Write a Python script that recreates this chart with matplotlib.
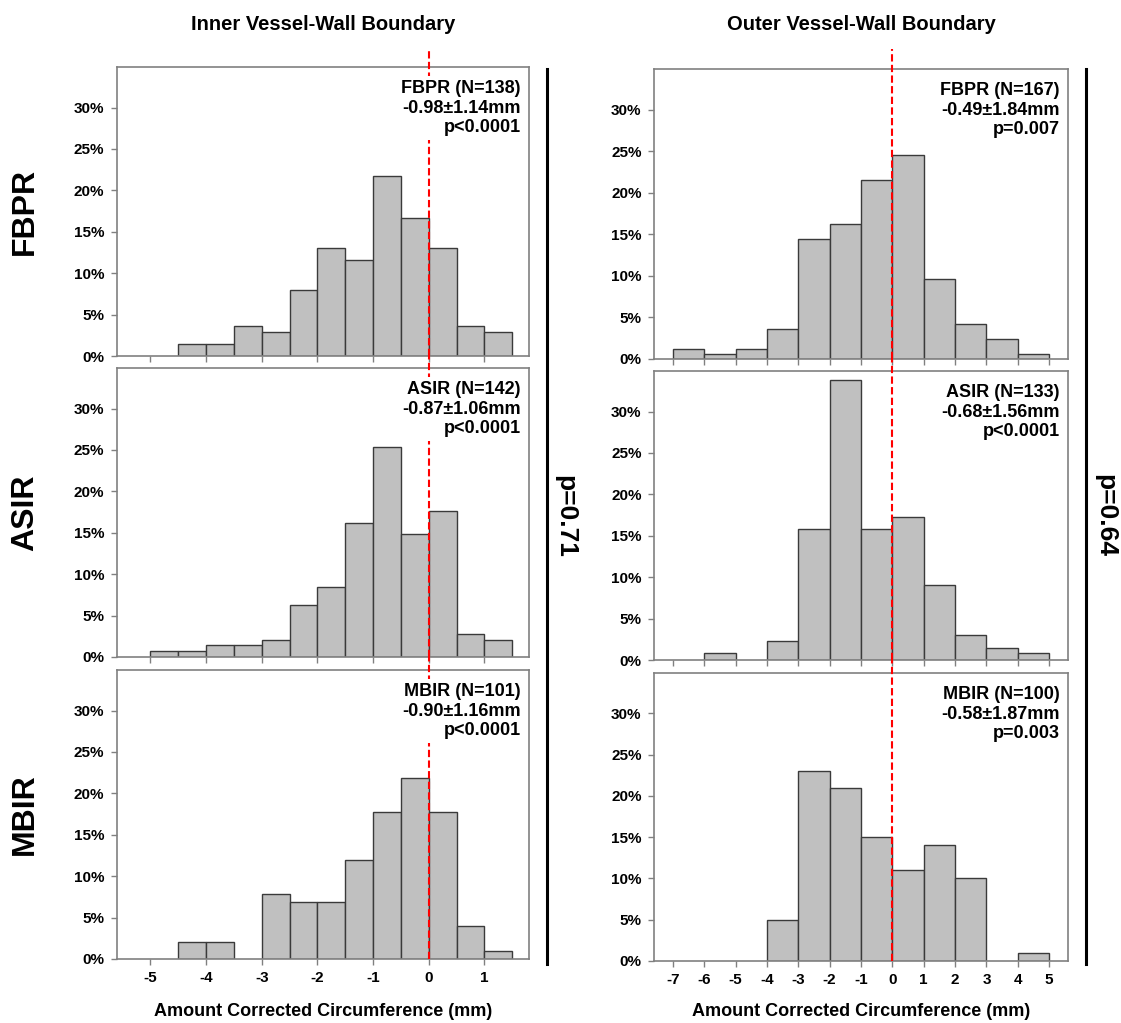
import matplotlib
matplotlib.use("Agg")
import matplotlib.pyplot as plt
import matplotlib.transforms as mtransforms
import numpy as np

plt.rcParams['font.family'] = ['Liberation Sans', 'DejaVu Sans']
plt.rcParams['font.weight'] = 'bold'
plt.rcParams['axes.unicode_minus'] = False

# ---------------- data ----------------
methods = ["FBPR", "ASIR", "MBIR"]
column_titles = ["Inner Vessel-Wall Boundary", "Outer Vessel-Wall Boundary"]
x_label = "Amount Corrected Circumference (mm)"

# inner boundary: bins of 0.5 mm starting at -5.0
inner_bin_left = [-5.0, -4.5, -4.0, -3.5, -3.0, -2.5, -2.0, -1.5, -1.0, -0.5, 0.0, 0.5, 1.0]
inner_bin_width = 0.5
inner_fbpr = [0, 1.4, 1.4, 3.6, 2.9, 8.0, 13.0, 11.6, 21.7, 16.7, 13.0, 3.6, 2.9]
inner_asir = [0.7, 0.7, 1.4, 1.4, 2.1, 6.3, 8.5, 16.2, 25.4, 14.8, 17.6, 2.8, 2.1]
inner_mbir = [0, 2.0, 2.0, 0, 7.9, 6.9, 6.9, 11.9, 17.8, 21.8, 17.8, 4.0, 1.0]
inner_ticks = [-5, -4, -3, -2, -1, 0, 1]

# outer boundary: bins of 1 mm starting at -7
outer_bin_left = [-7, -6, -5, -4, -3, -2, -1, 0, 1, 2, 3, 4]
outer_bin_width = 1.0
outer_fbpr = [1.2, 0.6, 1.2, 3.6, 14.4, 16.2, 21.6, 24.6, 9.6, 4.2, 2.4, 0.6]
outer_asir = [0, 0.8, 0, 2.3, 15.8, 33.8, 15.8, 17.3, 9.0, 3.0, 1.5, 0.8]
outer_mbir = [0, 0, 0, 5, 23, 21, 15, 11, 14, 10, 0, 1]
outer_ticks = [-7, -6, -5, -4, -3, -2, -1, 0, 1, 2, 3, 4, 5]

inner_notes = ["FBPR (N=138)\n-0.98\u00b11.14mm\np<0.0001",
               "ASIR (N=142)\n-0.87\u00b11.06mm\np<0.0001",
               "MBIR (N=101)\n-0.90\u00b11.16mm\np<0.0001"]
outer_notes = ["FBPR (N=167)\n-0.49\u00b11.84mm\np=0.007",
               "ASIR (N=133)\n-0.68\u00b11.56mm\np<0.0001",
               "MBIR (N=100)\n-0.58\u00b11.87mm\np=0.003"]
column_p = ["p=0.71", "p=0.64"]
y_ticks = [0, 5, 10, 15, 20, 25, 30]
y_ticklabels = ["0%", "5%", "10%", "15%", "20%", "25%", "30%"]

# ---------------- layout ----------------
W, H = 1121, 1023
fig = plt.figure(figsize=(W / 100, H / 100), dpi=100)

def fx(px):
    return px / W

def fy(py):
    return 1 - py / H

columns = [
    dict(x0=117, x1=529, rows=[(67, 356), (368, 657), (670, 959)],
         left=inner_bin_left, width=inner_bin_width,
         series=[inner_fbpr, inner_asir, inner_mbir],
         notes=inner_notes, ticks=inner_ticks, xlim=(-5.6, 1.8),
         vline_x=547, p_x=565),
    dict(x0=654, x1=1068, rows=[(69, 359), (371, 660), (673, 961)],
         left=outer_bin_left, width=outer_bin_width,
         series=[outer_fbpr, outer_asir, outer_mbir],
         notes=outer_notes, ticks=outer_ticks, xlim=(-7.6, 5.6),
         vline_x=1086, p_x=1105),
]

spine_col = "#808080"
red_top_px = 49

for ci, col in enumerate(columns):
    axes = []
    for ri, (t, b) in enumerate(col["rows"]):
        ax = fig.add_axes([fx(col["x0"]), fy(b), fx(col["x1"] - col["x0"]), (b - t) / H])
        axes.append(ax)
        vals = np.array(col["series"][ri], dtype=float)
        lefts = np.array(col["left"], dtype=float)
        m = vals > 0
        ax.bar(lefts[m], vals[m], width=col["width"], align="edge",
               color="#c0c0c0", edgecolor="#3a3a3a", linewidth=1.0, zorder=2)
        ax.set_xlim(*col["xlim"])
        ax.set_ylim(0, 34.9)
        ax.set_yticks(y_ticks)
        ax.set_yticklabels(y_ticklabels)
        ax.set_xticks(col["ticks"])
        if ri == 2:
            ax.set_xticklabels([str(v) for v in col["ticks"]])
        else:
            ax.set_xticklabels([])
        for s in ax.spines.values():
            s.set_color(spine_col)
            s.set_linewidth(1.2)
        ax.tick_params(axis="both", direction="out", length=4, width=1.0,
                       color=spine_col, labelsize=11, pad=5)
        for lab in ax.get_xticklabels() + ax.get_yticklabels():
            lab.set_fontweight("bold")

        # red dashed zero line, extended up through the gap above the panel
        if ri == 0:
            top_px = red_top_px
        else:
            top_px = col["rows"][ri - 1][1]
        ymax = (b - top_px) / (b - t)
        trans = mtransforms.blended_transform_factory(ax.transData, ax.transAxes)
        ax.plot([0, 0], [0, ymax], transform=trans, color="red", linewidth=1.5,
                dashes=(3.5, 1.6), clip_on=False, zorder=3)

        ax.text(0.98, 0.955, col["notes"][ri], transform=ax.transAxes,
                ha="right", va="top", fontsize=13, fontweight="bold",
                linespacing=1.2, zorder=5,
                bbox=dict(boxstyle="square,pad=0.2", facecolor="white", edgecolor="none"))

    # column title
    cx = fx((col["x0"] + col["x1"]) / 2)
    fig.text(cx, fy(24), column_titles[ci], ha="center", va="center",
             fontsize=14.5, fontweight="bold")
    # x label
    fig.text(cx, fy(1011), x_label, ha="center", va="center",
             fontsize=13, fontweight="bold")
    # black vertical bar and column p value
    fig.add_artist(plt.Line2D([fx(col["vline_x"]), fx(col["vline_x"])],
                              [fy(69), fy(964)], color="black", linewidth=2.2))
    fig.text(fx(col["p_x"]), fy(516), column_p[ci], rotation=270,
             ha="center", va="center", fontsize=19, fontweight="bold")

# row labels
for ri, name in enumerate(methods):
    t, b = columns[0]["rows"][ri]
    fig.text(fx(25), fy((t + b) / 2), name, rotation=90, ha="center", va="center",
             fontsize=23, fontweight="bold")

fig.savefig("out.png", dpi=100)
